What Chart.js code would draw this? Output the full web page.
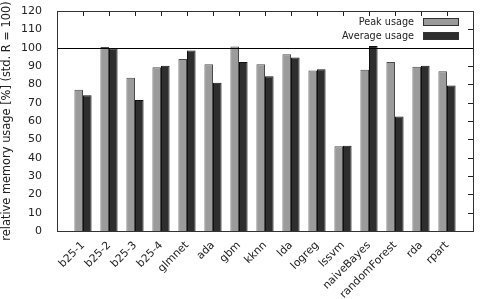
<!DOCTYPE html>
<html>
<head>
<meta charset="utf-8">
<script src="https://cdn.jsdelivr.net/npm/chart.js@4"></script>
<style>
  html, body { margin: 0; padding: 0; background: #fff; }
  canvas { display: block; }
</style>
</head>
<body>
<canvas id="memChart" width="480" height="299"></canvas>
<script>
// categories (empty slot on each side, like the gnuplot range -1..15)
const methods = ['b25-1', 'b25-2', 'b25-3', 'b25-4', 'glmnet', 'ada', 'gbm', 'kknn', 'lda',
    'logreg', 'lssvm', 'naiveBayes', 'randomForest', 'rda', 'rpart'];
const peakUsage = [77.1, 100.3, 83.6, 89.3, 93.8, 90.9, 100.7, 90.9, 96.4, 87.6, 46.2, 88.0, 92.2, 89.6, 87.1];
const avgUsage = [74.0, 99.5, 71.5, 90.2, 98.5, 80.9, 92.2, 84.4, 94.7, 88.2, 46.5, 100.9, 62.4, 90.2, 79.3];
const yTicks = [0, 10, 20, 30, 40, 50, 60, 70, 80, 90, 100, 110, 120];
const refLine = 100;

const FONT = "'DejaVu Sans', sans-serif";
const labels = [''].concat(methods, ['']);
const pad = arr => [null].concat(arr, [null]);

// inward ticks go under the bars, frame / 100 line / legend on top
const framePlugin = {
    id: 'frame',
    beforeDatasetsDraw(chart) {
        const { ctx, chartArea: a, scales: { x, y } } = chart;
        ctx.save();
        ctx.strokeStyle = '#222';
        ctx.lineWidth = 1;
        ctx.beginPath();
        for (let i = 1; i <= methods.length; i++) {
            const px = Math.round(x.getPixelForValue(i)) + 0.5;
            ctx.moveTo(px, a.top);
            ctx.lineTo(px, a.top + 5);
            ctx.moveTo(px, a.bottom);
            ctx.lineTo(px, a.bottom - 5);
        }
        yTicks.forEach(v => {
            const py = Math.round(y.getPixelForValue(v)) + 0.5;
            ctx.moveTo(a.right, py);
            ctx.lineTo(a.right - 5, py);
        });
        ctx.stroke();
        ctx.restore();
    },
    afterDatasetsDraw(chart) {
        const { ctx, chartArea: a, scales: { y } } = chart;
        ctx.save();
        ctx.strokeStyle = '#000';
        ctx.lineWidth = 1;
        ctx.beginPath();
        const yr = Math.round(y.getPixelForValue(refLine)) + 0.5;
        ctx.moveTo(a.left, yr);
        ctx.lineTo(a.right, yr);
        ctx.stroke();

        ctx.strokeStyle = '#333';
        ctx.strokeRect(Math.round(a.left) + 0.5, Math.round(a.top) + 0.5,
            Math.round(a.right - a.left), Math.round(a.bottom - a.top));

        // legend
        ctx.font = '9.7px ' + FONT;
        ctx.textAlign = 'right';
        ctx.textBaseline = 'middle';
        chart.data.datasets.forEach((ds, i) => {
            const cy = 22 + i * 14;
            ctx.fillStyle = '#222';
            ctx.fillText(ds.label, 414, cy);
            ctx.fillStyle = ds.backgroundColor;
            ctx.fillRect(423, cy - 3.5, 35, 7);
            ctx.strokeStyle = '#333';
            ctx.strokeRect(423.5, cy - 3.5, 35, 7);
        });
        ctx.restore();
    }
};

new Chart(document.getElementById('memChart').getContext('2d'), {
    type: 'bar',
    data: {
        labels: labels,
        datasets: [{
            label: 'Peak usage',
            data: pad(peakUsage),
            backgroundColor: '#9b9b9b',
            borderColor: '#4a4a4a',
            borderWidth: 1
        }, {
            label: 'Average usage',
            data: pad(avgUsage),
            backgroundColor: '#2e2e2e',
            borderColor: '#111',
            borderWidth: 1
        }]
    },
    options: {
        responsive: false,
        animation: false,
        devicePixelRatio: 1,
        layout: { padding: { top: 11, right: 7, left: 0, bottom: 0 } },
        datasets: { bar: { categoryPercentage: 0.66, barPercentage: 1.0 } },
        plugins: {
            legend: { display: false },
            tooltip: { enabled: false }
        },
        scales: {
            x: {
                type: 'category',
                offset: false,
                grid: { display: false },
                border: { display: false },
                ticks: {
                    autoSkip: false,
                    minRotation: 45,
                    maxRotation: 45,
                    padding: 0,
                    color: '#222',
                    font: { family: FONT, size: 10.8 }
                },
                afterFit: s => {
                    s.height = 68;
                    s.paddingLeft = 0;
                    s.paddingRight = 0;
                }
            },
            y: {
                min: 0,
                max: 120,
                grid: { display: false },
                border: { display: false },
                afterBuildTicks: s => { s.ticks = yTicks.map(v => ({ value: v })); },
                ticks: {
                    padding: 7,
                    color: '#222',
                    font: { family: FONT, size: 11 }
                },
                title: {
                    display: true,
                    text: 'relative memory usage [%] (std. R = 100)',
                    color: '#222',
                    font: { family: FONT, size: 11.4 },
                    padding: { top: 0, bottom: 0 }
                },
                afterFit: s => {
                    s.width = 57;
                    s.paddingTop = 0;
                    s.paddingBottom = 0;
                }
            }
        }
    },
    plugins: [framePlugin]
});
</script>
</body>
</html>
